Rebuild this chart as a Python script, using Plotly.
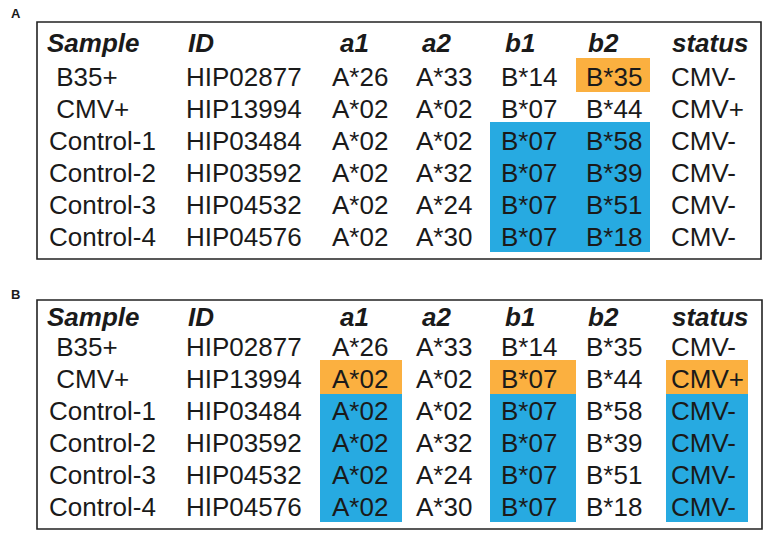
import plotly.graph_objects as go

# ── table data ────────────────────────────────────────────────────────────────
headers = ["Sample", "ID", "a1", "a2", "b1", "b2", "status"]
samples = ["\u00a0B35+", "\u00a0CMV+", "Control-1", "Control-2", "Control-3", "Control-4"]
ids     = ["HIP02877", "HIP13994", "HIP03484", "HIP03592", "HIP04532", "HIP04576"]
a1      = ["A*26", "A*02", "A*02", "A*02", "A*02", "A*02"]
a2      = ["A*33", "A*02", "A*02", "A*32", "A*24", "A*30"]
b1      = ["B*14", "B*07", "B*07", "B*07", "B*07", "B*07"]
b2      = ["B*35", "B*44", "B*58", "B*39", "B*51", "B*18"]
status  = ["CMV-", "CMV+", "CMV-", "CMV-", "CMV-", "CMV-"]

# highlight per row, per column ("o" = orange, "b" = blue)
hl_a = [
    ["", "", "", "", "",  "o", ""],
    ["", "", "", "", "",  "",  ""],
    ["", "", "", "", "b", "b", ""],
    ["", "", "", "", "b", "b", ""],
    ["", "", "", "", "b", "b", ""],
    ["", "", "", "", "b", "b", ""],
]
hl_b = [
    ["", "", "",  "", "",  "", ""],
    ["", "", "o", "", "o", "", "o"],
    ["", "", "b", "", "b", "", "b"],
    ["", "", "b", "", "b", "", "b"],
    ["", "", "b", "", "b", "", "b"],
    ["", "", "b", "", "b", "", "b"],
]

# ── layout constants ──────────────────────────────────────────────────────────
W, H = 765, 533
FONT = "Liberation Sans, Arial, Helvetica, sans-serif"
INK = "#1a1a1a"
COLORS = {"o": "#FBB040", "b": "#27AAE1"}

head_x = [45, 186, 338, 420, 503, 586, 670]
cell_x = [47, 184, 330, 414, 499, 584, 669]
band_x = [None, None, (320, 402), None, (490, 576), (576, 650), (666, 748)]

panels = [
    dict(label="A", label_xy=(16, 13), box=(37, 22, 761, 259),
         head_y=43, row0=77, hl=hl_a),
    dict(label="B", label_xy=(15, 294), box=(37, 300, 762, 529),
         head_y=317, row0=347, hl=hl_b),
]
PITCH = 32

columns = [samples, ids, a1, a2, b1, b2, status]

fig = go.Figure()
shapes, annos = [], []

for p in panels:
    x0, y0, x1, y1 = p["box"]
    row_y = [p["row0"] + i * PITCH for i in range(len(samples))]

    # highlight blocks: merge consecutive rows of the same colour per column
    for c, band in enumerate(band_x):
        if band is None:
            continue
        r = 0
        while r < len(row_y):
            col = p["hl"][r][c]
            if not col:
                r += 1
                continue
            r_end = r
            while r_end + 1 < len(row_y) and p["hl"][r_end + 1][c] == col:
                r_end += 1
            top = row_y[r] - 19 + (2 if r > 0 and p["hl"][r - 1][c] else 0)
            bot = row_y[r_end] + 15
            shapes.append(dict(
                type="rect", xref="x", yref="y",
                x0=band[0], x1=band[1], y0=top, y1=bot,
                fillcolor=COLORS[col], line=dict(width=0),
                layer="below",
            ))
            r = r_end + 1

    # frame
    shapes.append(dict(
        type="rect", xref="x", yref="y", x0=x0, y0=y0, x1=x1, y1=y1,
        line=dict(color="#222222", width=1.6), fillcolor="rgba(0,0,0,0)",
    ))

    # panel letter
    annos.append(dict(
        x=p["label_xy"][0], y=p["label_xy"][1], xref="x", yref="y",
        text=f"<b>{p['label']}</b>", showarrow=False,
        xanchor="center", yanchor="middle",
        font=dict(family=FONT, size=13, color=INK),
    ))

    # headers
    for hx, h in zip(head_x, headers):
        annos.append(dict(
            x=hx, y=p["head_y"], xref="x", yref="y",
            text=f"<b><i>{h}</i></b>", showarrow=False,
            xanchor="left", yanchor="middle",
            font=dict(family=FONT, size=26, color=INK),
        ))

    # cells
    for cx, values in zip(cell_x, columns):
        for ry, v in zip(row_y, values):
            annos.append(dict(
                x=cx, y=ry, xref="x", yref="y",
                text=v, showarrow=False,
                xanchor="left", yanchor="middle",
                font=dict(family=FONT, size=26, color=INK),
            ))

fig.update_layout(
    width=W, height=H,
    margin=dict(l=0, r=0, t=0, b=0),
    paper_bgcolor="white", plot_bgcolor="white",
    xaxis=dict(range=[0, W], visible=False, fixedrange=True),
    yaxis=dict(range=[H, 0], visible=False, fixedrange=True),
    shapes=shapes, annotations=annos,
    showlegend=False,
)

# page body has a default margin; drop it so the figure sits at (0, 0)
fig.write_html(
    "out.html",
    config=dict(displayModeBar=False),
    post_script="document.body.style.margin='0px';",
)
